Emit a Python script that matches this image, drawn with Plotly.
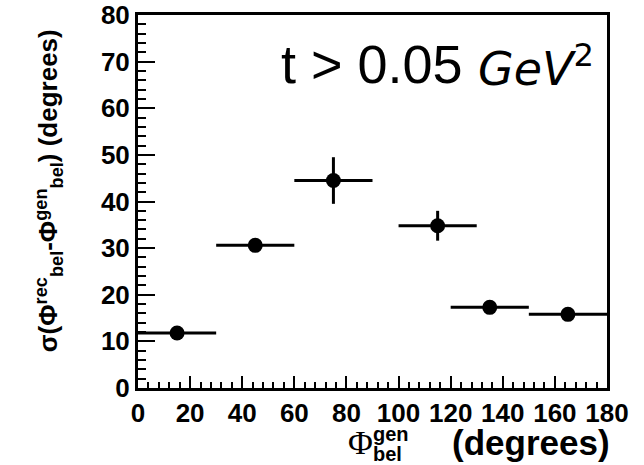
import plotly.graph_objects as go

# data
phi_center = [15, 45, 75, 115, 135, 165]
phi_low = [0, 30, 60, 100, 120, 150]
phi_high = [30, 60, 90, 130, 150, 180]
sigma = [11.8, 30.6, 44.5, 34.8, 17.3, 15.8]
sigma_err = [0.6, 0.6, 5.0, 3.2, 0.6, 0.5]

x_ticks = [0, 20, 40, 60, 80, 100, 120, 140, 160, 180]
y_ticks = [0, 10, 20, 30, 40, 50, 60, 70, 80]

err_plus = [h - c for h, c in zip(phi_high, phi_center)]
err_minus = [c - l for c, l in zip(phi_center, phi_low)]

fig = go.Figure()
fig.add_trace(go.Scatter(
    x=phi_center, y=sigma, mode="markers",
    marker=dict(color="black", size=15, symbol="circle"),
    error_x=dict(type="data", symmetric=False, array=err_plus, arrayminus=err_minus,
                 color="black", thickness=3, width=0),
    error_y=dict(type="data", array=sigma_err, color="black", thickness=3, width=0),
    showlegend=False,
))

tickfont = dict(family="Liberation Sans", size=26, color="black", weight="bold")

fig.update_layout(
    width=644, height=465,
    margin=dict(l=138, r=37, t=15, b=77),
    paper_bgcolor="white", plot_bgcolor="white",
    xaxis=dict(range=[0, 180], tickmode="array", tickvals=x_ticks,
               ticktext=[str(v) for v in x_ticks], automargin=False,
               ticks="inside", ticklen=12, tickwidth=2, tickcolor="black",
               minor=dict(dtick=4, ticks="inside", ticklen=6, tickwidth=2, tickcolor="black"),
               showline=True, linecolor="black", linewidth=3, mirror=True,
               showgrid=False, zeroline=False, tickfont=tickfont),
    yaxis=dict(range=[0, 80], tickmode="array", tickvals=y_ticks,
               ticktext=[str(v) for v in y_ticks], automargin=False,
               ticks="inside", ticklen=17, tickwidth=2, tickcolor="black",
               minor=dict(dtick=2, ticks="inside", ticklen=8, tickwidth=2, tickcolor="black"),
               showline=True, linecolor="black", linewidth=3, mirror=True,
               showgrid=False, zeroline=False, tickfont=tickfont),
)

# y-axis title
fig.add_annotation(
    text="<b>σ(Φ<sup>rec</sup><sub>bel</sub>-Φ<sup>gen</sup><sub>bel</sub>) (degrees)</b>",
    xref="paper", yref="paper", x=-0.19, y=0.53, textangle=-90,
    showarrow=False, font=dict(family="Liberation Sans", size=26, color="black"),
    xanchor="center", yanchor="middle")

# x-axis title, built from pieces so the super/subscripts stack
fig.add_annotation(
    text="<b>(degrees)</b>", xref="paper", yref="paper", x=1.011, y=-0.145,
    showarrow=False, font=dict(family="Liberation Sans", size=35, color="black"),
    xanchor="right", yanchor="middle")
fig.add_annotation(
    text="Φ", xref="paper", yref="paper", x=0.474, y=-0.145,
    showarrow=False, font=dict(family="Liberation Serif", size=34, color="black"),
    xanchor="center", yanchor="middle")
fig.add_annotation(
    text="<b>gen</b>", xref="paper", yref="paper", x=0.496, y=-0.122,
    showarrow=False, font=dict(family="Liberation Sans", size=20, color="black"),
    xanchor="left", yanchor="middle")
fig.add_annotation(
    text="<b>bel</b>", xref="paper", yref="paper", x=0.496, y=-0.178,
    showarrow=False, font=dict(family="Liberation Sans", size=20, color="black"),
    xanchor="left", yanchor="middle")

fig.add_annotation(
    text="t > 0.05",
    xref="paper", yref="paper", x=0.3, y=0.869,
    showarrow=False, font=dict(family="Liberation Sans", size=54, color="black"),
    xanchor="left", yanchor="middle")

fig.add_annotation(
    text="<i>GeV</i><sup>2</sup>",
    xref="paper", yref="paper", x=0.72, y=0.864,
    showarrow=False, font=dict(family="DejaVu Sans", size=46, color="black"),
    xanchor="left", yanchor="middle")

fig.write_html("out.html", config={"displayModeBar": False},
               post_script="document.body.style.margin='0';")
